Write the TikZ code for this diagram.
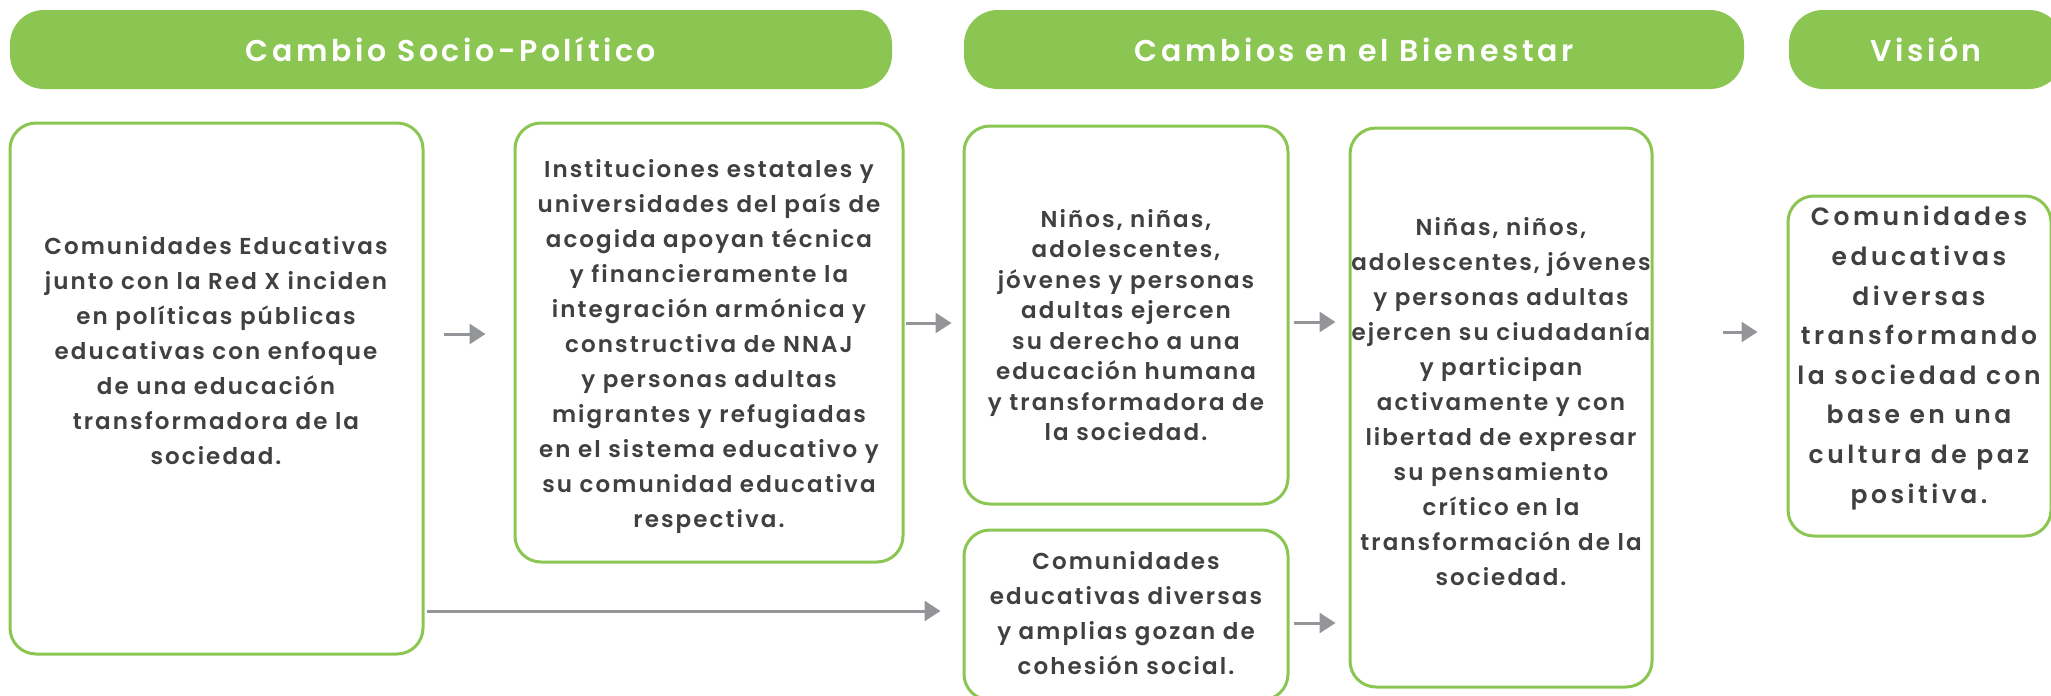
\documentclass[tikz,border=0pt]{standalone}
\usepackage{fontspec}
\setmainfont{Poppins}[BoldFont={Poppins SemiBold}, LetterSpace=9]
\usetikzlibrary{arrows.meta}
\definecolor{leaf}{HTML}{8CC652}
\definecolor{ink}{HTML}{404041}
\definecolor{steel}{HTML}{939598}

\begin{document}
\begin{tikzpicture}[
            x = 0.5pt, y = -0.5pt, % one unit is one pixel of the reference
            > = {Triangle[length=8pt, width=10pt]}, % arrow head style
            semithick % line style
        ]

        \tikzstyle{header}=[
            fill = leaf,
            rounded corners = 17pt,
            inner sep = 0pt,
            minimum height = 39.5pt,
            text = white,
            font = \fontsize{15}{18}\selectfont\bfseries\addfontfeature{LetterSpace=12}
        ]
        \tikzstyle{box}=[
            draw = leaf,
            line width = 1.5pt,
            rounded corners = 13pt,
            inner sep = 0pt
        ]
        \tikzstyle{txt}=[
            text = ink,
            align = center,
            font = \fontsize{11.5}{17.5}\selectfont\bfseries
        ]
        \tikzstyle{link}=[->, draw = steel, line width = 1.5pt]

        \useasboundingbox (0,0) rectangle (2051,696);

        % headers
        \node[header, minimum width = 441pt] (H1) at (451,49.5) {Cambio Socio-Político};
        \node[header, minimum width = 390pt] (H2) at (1354,49.5) {Cambios en el Bienestar};
        \node[header, minimum width = 137pt] (H3) at (1926,49.5) {Visión};

        % socio-political level
        \node[box, minimum width = 206.5pt, minimum height = 265.5pt] (C1) at (216.5,388.5) {};
        \node[txt] (C1T) at (216,351) {Comunidades Educativas\\junto con la Red X inciden\\en políticas públicas\\educativas con enfoque\\de una educación\\transformadora de la\\sociedad.};

        \node[box, minimum width = 194pt, minimum height = 219.5pt] (C2) at (709,342.5) {};
        \node[txt] (C2T) at (709,347) {Instituciones estatales y\\universidades del país de\\acogida apoyan técnica\\y financieramente la\\integración armónica y\\constructiva de NNAJ\\y personas adultas\\migrantes y refugiadas\\en el sistema educativo y\\su comunidad educativa\\respectiva.};

        % wellbeing level
        \node[box, minimum width = 162pt, minimum height = 189pt] (C3) at (1126,315) {};
        \node[txt, font = \fontsize{11.5}{15.25}\selectfont\bfseries] (C3T) at (1126,325) {Niños, niñas,\\adolescentes,\\jóvenes y personas\\adultas ejercen\\su derecho a una\\educación humana\\y transformadora de\\la sociedad.};

        \node[box, minimum width = 162pt, minimum height = 85pt] (C4) at (1126,615) {};
        \node[txt] (C4T) at (1126,613) {Comunidades\\educativas diversas\\y amplias gozan de\\cohesión social.};

        \node[box, minimum width = 151pt, minimum height = 279.5pt] (C5) at (1501,407.5) {};
        \node[txt] (C5T) at (1501,402) {Niñas, niños,\\adolescentes, jóvenes\\y personas adultas\\ejercen su ciudadanía\\y participan\\activamente y con\\libertad de expresar\\su pensamiento\\crítico en la\\transformación de la\\sociedad.};

        % vision
        \node[box, minimum width = 131.5pt, minimum height = 170pt] (C6) at (1919.5,366) {};
        \node[txt, font = \fontsize{12.5}{19.8}\selectfont\bfseries\addfontfeature{LetterSpace=14}] (C6T) at (1919,358) {Comunidades\\educativas\\diversas\\transformando\\la sociedad con\\base en una\\cultura de paz\\positiva.};

        % links
        \draw[link, shorten <= 9.5pt, shorten >= 14pt] (C1.east |- 0,334) -- (C2.west |- 0,334);
        \draw[link, shorten <= 0.5pt, shorten >= 5.5pt] (C2.east |- 0,323) -- (C3.west |- 0,323);
        \draw[link, shorten <= 2pt, shorten >= 6.5pt] (C3.east |- 0,322) -- (C5.west |- 0,322);
        \draw[link, shorten <= 2pt, shorten >= 6.5pt] (C4.east |- 0,623) -- (C5.west |- 0,623);
        \draw[link, shorten <= 34.5pt, shorten >= 14.5pt] (C5.east |- 0,332) -- (C6.west |- 0,332);
        \draw[link, shorten <= 1pt, shorten >= 11pt] (C1.east |- 0,611) -- (C4.west |- 0,611);

\end{tikzpicture}
\end{document}
